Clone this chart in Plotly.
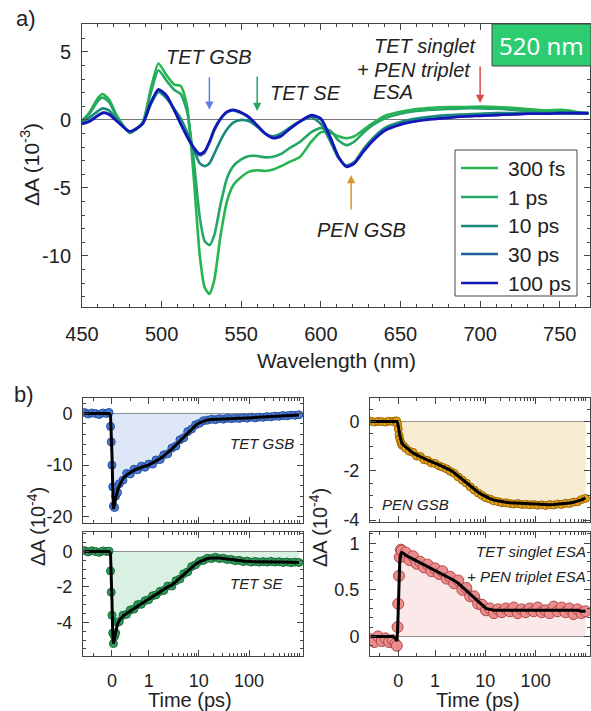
import math
import plotly.graph_objects as go

W, H = 591, 711

# ---------------- Panel a: spectra ----------------
WL = [450, 455, 460, 463, 467, 472, 480, 488, 493, 498, 503, 508, 512, 516, 520, 524, 527, 530, 533,
      537, 541, 545, 550, 555, 560, 565, 570, 575, 580, 587, 594, 600, 606, 611, 616, 621, 627, 633,
      640, 650, 660, 670, 680, 690, 700, 710, 720, 730, 740, 750, 755, 760, 768]

S_300FS = [-0.1, 0.6, 1.6, 1.9, 1.5, 0.3, -0.95, -0.2, 2.2, 4.15, 3.3, 2.6, 2.5, 1.0, -4.0, -10.0, -12.3,
           -12.8, -11.8, -8.5, -6.0, -4.8, -4.2, -3.8, -3.7, -3.75, -3.65, -3.4, -3.1, -2.7, -1.6, -0.9,
           -0.95, -1.2, -1.35, -1.2, -0.7, -0.2, 0.3, 0.6, 0.8, 0.9, 0.95, 0.95, 0.98, 0.95, 0.9, 0.8, 0.7,
           0.75, 0.7, 0.6, 0.5]
S_1PS = [-0.05, 0.5, 1.4, 1.65, 1.3, 0.2, -0.9, -0.2, 1.9, 3.65, 2.9, 2.2, 1.9, 0.6, -2.8, -7.2, -8.9,
         -9.2, -8.5, -6.2, -4.3, -3.4, -2.9, -2.65, -2.65, -2.75, -2.7, -2.5, -2.1, -1.6, -0.9, -0.6,
         -0.8, -1.5, -1.85, -1.6, -0.9, -0.35, 0.1, 0.45, 0.65, 0.75, 0.8, 0.85, 0.85, 0.82, 0.75, 0.65,
         0.55, 0.6, 0.55, 0.5, 0.45]
S_10PS = [-0.15, 0.2, 0.65, 0.85, 0.7, 0.0, -0.9, -0.3, 1.1, 2.05, 1.6, 0.8, 0.1, -0.9, -2.1, -3.2, -3.4,
          -3.2, -2.5, -1.5, -0.7, -0.2, 0.0, -0.1, -0.5, -1.0, -1.2, -1.0, -0.6, -0.1, 0.2, -0.3, -1.6,
          -2.8, -3.35, -3.1, -2.1, -1.3, -0.6, -0.15, 0.1, 0.25, 0.35, 0.4, 0.45, 0.5, 0.5, 0.5, 0.5,
          0.5, 0.5, 0.5, 0.45]
S_30PS = [-0.28, -0.05, 0.35, 0.55, 0.45, -0.08, -0.85, -0.3, 1.2, 2.2, 1.75, 0.7, -0.3, -1.25, -2.1,
          -2.6, -2.4, -1.7, -0.8, 0.05, 0.55, 0.7, 0.5, 0.15, -0.4, -1.0, -1.3, -1.15, -0.7, -0.1, 0.3,
          0.05, -1.3, -2.7, -3.4, -3.15, -2.25, -1.45, -0.75, -0.3, -0.05, 0.08, 0.18, 0.27, 0.32, 0.37,
          0.42, 0.45, 0.47, 0.5, 0.5, 0.5, 0.5]
S_100PS = [-0.3, -0.1, 0.3, 0.5, 0.4, -0.1, -0.85, -0.3, 1.2, 2.25, 1.8, 0.7, -0.3, -1.2, -2.0, -2.5,
           -2.3, -1.6, -0.7, 0.1, 0.6, 0.75, 0.55, 0.2, -0.4, -1.0, -1.35, -1.2, -0.7, -0.1, 0.35, 0.1,
           -1.3, -2.7, -3.45, -3.2, -2.3, -1.5, -0.8, -0.35, -0.1, 0.05, 0.15, 0.25, 0.3, 0.35, 0.4,
           0.45, 0.45, 0.5, 0.5, 0.5, 0.5]

SPEC_NAMES = ["300 fs", "1 ps", "10 ps", "30 ps", "100 ps"]
SPEC_DATA = [S_300FS, S_1PS, S_10PS, S_30PS, S_100PS]
SPEC_COLORS = ["#27b54f", "#24a865", "#18897a", "#1f5e9c", "#1414bb"]

# ---------------- Panel b: kinetics (units of 1e-4) ----------------
T = [-0.75, -0.65, -0.55, -0.45, -0.35, -0.25, -0.15, -0.08,
     -0.04, -0.02, 0.0, 0.02, 0.04,
     0.07, 0.1, 0.15, 0.2,
     0.3, 0.4, 0.5, 0.6, 0.7, 0.8, 0.9, 1.0,
     1.2, 1.4, 1.7, 2.0, 2.4, 2.9, 3.5, 4.2, 5.0, 6.0, 7.2, 8.6, 10.3, 12.4, 14.8, 17.8, 21.3, 25.6,
     30.7, 36.8, 44.1, 52.9, 63.5, 76.2, 91.4,
     110, 132, 158, 190, 228, 273, 328, 393, 472, 566, 680, 815, 980]

GSB_FIT = [0, 0, 0, 0, 0, 0, 0, 0,
           -0.3, -3, -8, -14, -18.5,
           -17.5, -16.3, -15.0, -14.0,
           -12.6, -11.9, -11.4, -11.0, -10.7, -10.4, -10.2, -10.0,
           -9.6, -9.2, -8.7, -8.2, -7.6, -6.9, -6.1, -5.3, -4.5, -3.7, -2.9, -2.3, -1.8, -1.45, -1.25,
           -1.15, -1.1, -1.05, -1.0, -1.0, -0.95, -0.95, -0.9, -0.9, -0.85,
           -0.8, -0.8, -0.75, -0.7, -0.65, -0.6, -0.55, -0.5, -0.45, -0.4, -0.35, -0.3, -0.3]
GSB_DATA = [0.2, -0.1, 0.1, 0.0, -0.2, 0.1, 0.0, 0.2,
            -2.5, -5.5, -10, -14.2, -17.9,
            -18.2, -16.0, -15.3, -13.6,
            -12.9, -11.6, -11.7, -10.8, -10.9, -10.2, -10.4, -9.8,
            -9.8, -9.0, -8.9, -8.0, -7.8, -6.7, -6.3, -5.1, -4.7, -3.5, -3.0, -2.2, -1.9, -1.4, -1.3,
            -1.1, -1.2, -1.0, -1.1, -0.9, -1.0, -0.9, -0.95, -0.8, -0.9,
            -0.7, -0.85, -0.7, -0.75, -0.6, -0.65, -0.5, -0.55, -0.4, -0.45, -0.3, -0.35, -0.25]

SE_FIT = [0, 0, 0, 0, 0, 0, 0, 0,
          -0.1, -1.0, -2.8, -4.5, -5.2,
          -4.9, -4.5, -4.1, -3.9,
          -3.65, -3.5, -3.35, -3.2, -3.05, -2.95, -2.82, -2.7,
          -2.55, -2.42, -2.28, -2.15, -2.0, -1.9, -1.7, -1.5, -1.3, -1.1, -0.9, -0.72, -0.58, -0.47,
          -0.4, -0.37, -0.36, -0.37, -0.4, -0.43, -0.47, -0.5, -0.53, -0.55, -0.56,
          -0.57, -0.58, -0.58, -0.58, -0.58, -0.58, -0.59, -0.6, -0.6, -0.6, -0.61, -0.62, -0.62]
SE_DATA = [0.05, -0.03, 0.04, 0.0, -0.05, 0.03, 0.0, 0.02,
           -1.1, -2.3, -3.6, -4.6, -5.2,
           -4.8, -4.6, -4.0, -3.95,
           -3.6, -3.55, -3.3, -3.25, -3.0, -2.98, -2.78, -2.72,
           -2.5, -2.45, -2.25, -2.2, -1.95, -1.95, -1.65, -1.55, -1.25, -1.15, -0.85, -0.75, -0.55,
           -0.5, -0.38, -0.4, -0.33, -0.4, -0.38, -0.45, -0.45, -0.52, -0.5, -0.57, -0.54,
           -0.6, -0.56, -0.6, -0.57, -0.6, -0.56, -0.6, -0.58, -0.62, -0.59, -0.63, -0.6, -0.62]

PEN_FIT = [0, 0, 0, 0, 0, 0, 0, 0,
           0.0, -0.05, -0.15, -0.35, -0.55,
           -0.75, -0.88, -0.97, -1.03,
           -1.15, -1.27, -1.35, -1.43, -1.5, -1.57, -1.63, -1.68,
           -1.76, -1.82, -1.9, -1.97, -2.08, -2.22, -2.35, -2.48, -2.62, -2.75, -2.87, -2.97, -3.06,
           -3.13, -3.19, -3.23, -3.26, -3.28, -3.3, -3.31, -3.32, -3.33, -3.34, -3.35, -3.36,
           -3.37, -3.38, -3.38, -3.38, -3.37, -3.36, -3.35, -3.33, -3.31, -3.28, -3.24, -3.18, -3.1]
PEN_DATA = [0.02, -0.02, 0.01, 0.0, -0.02, 0.02, 0.0, 0.03,
            0.02, -0.1, -0.3, -0.55, -0.7,
            -0.85, -0.95, -1.0, -1.08,
            -1.2, -1.25, -1.4, -1.42, -1.55, -1.58, -1.68, -1.7,
            -1.8, -1.85, -1.92, -2.02, -2.1, -2.25, -2.38, -2.5, -2.65, -2.78, -2.9, -3.0, -3.1,
            -3.15, -3.22, -3.25, -3.3, -3.3, -3.33, -3.35, -3.33, -3.37, -3.36, -3.38, -3.37,
            -3.4, -3.38, -3.41, -3.37, -3.39, -3.35, -3.37, -3.32, -3.33, -3.27, -3.26, -3.17, -3.12]

ESA_FIT = [0, 0, 0, 0, 0, 0, 0, -0.02,
           -0.05, 0.05, 0.3, 0.6, 0.8,
           0.88, 0.9, 0.89, 0.87,
           0.85, 0.83, 0.81, 0.79, 0.77, 0.75, 0.73, 0.71,
           0.69, 0.67, 0.64, 0.62, 0.6, 0.57, 0.53, 0.49, 0.45, 0.41, 0.37, 0.33, 0.3, 0.29, 0.28,
           0.28, 0.28, 0.28, 0.28, 0.28, 0.28, 0.28, 0.28, 0.28, 0.28,
           0.28, 0.28, 0.28, 0.28, 0.28, 0.28, 0.28, 0.28, 0.28, 0.28, 0.28, 0.27, 0.27]
ESA_DATA = [-0.03, -0.06, 0.0, -0.05, -0.02, -0.06, -0.04, -0.08,
            -0.1, 0.1, 0.35, 0.65, 0.85,
            0.93, 0.92, 0.86, 0.9,
            0.82, 0.86, 0.78, 0.8, 0.74, 0.77, 0.7, 0.73,
            0.67, 0.7, 0.62, 0.64, 0.57, 0.6, 0.5, 0.52, 0.43, 0.43, 0.35, 0.34, 0.28, 0.3, 0.25,
            0.29, 0.26, 0.3, 0.27, 0.31, 0.25, 0.29, 0.26, 0.3, 0.27,
            0.31, 0.26, 0.28, 0.25, 0.32, 0.27, 0.31, 0.26, 0.3, 0.24, 0.29, 0.25, 0.27]

TIME_TICKS = [0, 1, 10, 100]
TIME_TICK_LABELS = ["0", "1", "10", "100"]

DECADE = 1.37  # axis units per decade beyond 1 ps (lin-log time axis)


def lin_log(t):
    return t if t <= 1 else 1 + DECADE * math.log10(t)


U = [lin_log(t) for t in T]

FONT = "Liberation Sans, Arial, sans-serif"
AX_COL = "#444444"


def px(x):
    return x / W


def py(y):
    return 1 - y / H


fig = go.Figure()

# spectra
for name, vals, col in zip(SPEC_NAMES, SPEC_DATA, SPEC_COLORS):
    fig.add_trace(go.Scatter(x=WL, y=vals, mode="lines", name=name, showlegend=False,
                             line=dict(color=col, width=2.6, shape="spline", smoothing=0.6),
                             xaxis="x", yaxis="y"))

# kinetics panels
panels = [
    ("x2", "y2", GSB_DATA, GSB_FIT, "#4a78d2", "#27519e", "rgba(188,208,240,0.5)", 8),
    ("x3", "y3", SE_DATA, SE_FIT, "#2f9e5a", "#1b6b3a", "rgba(180,228,200,0.5)", 8),
    ("x4", "y4", PEN_DATA, PEN_FIT, "#e6a31c", "#9c6800", "rgba(242,222,180,0.6)", 8),
    ("x5", "y5", ESA_DATA, ESA_FIT, "#ea8c8c", "#b54848", "rgba(248,214,214,0.55)", 11),
]
for xa, ya, data, fit, mcol, ecol, fcol, msize in panels:
    fig.add_trace(go.Scatter(x=U, y=fit, mode="lines", fill="tozeroy", fillcolor=fcol,
                             line=dict(width=0, color=fcol), showlegend=False,
                             xaxis=xa, yaxis=ya, hoverinfo="skip"))
    fig.add_trace(go.Scatter(x=U, y=data, mode="markers", showlegend=False,
                             marker=dict(size=msize, color=mcol, line=dict(color=ecol, width=1)),
                             xaxis=xa, yaxis=ya))
    fig.add_trace(go.Scatter(x=U, y=fit, mode="lines", showlegend=False,
                             line=dict(color="black", width=3),
                             xaxis=xa, yaxis=ya))

common_ax = dict(showline=True, linecolor=AX_COL, linewidth=1, mirror="allticks",
                 ticks="inside", tickcolor=AX_COL, ticklen=6, showgrid=False, automargin=False,
                 tickfont=dict(family=FONT, size=18, color="#222"))

minor_t = [-0.5, 0.5] + [m * 10 ** d for d in range(0, 3) for m in range(2, 10)] + [1000]
minor_u = [lin_log(t) for t in minor_t]
tick_u = [lin_log(t) for t in TIME_TICKS]

time_ax = dict(common_ax, tickmode="array", tickvals=tick_u, ticktext=TIME_TICK_LABELS,
               zeroline=False, ticklabelstandoff=8,
               minor=dict(tickvals=minor_u, ticklen=3, ticks="inside", tickcolor=AX_COL))

ystand = 6

lay = dict(
    width=W, height=H, margin=dict(l=0, r=0, t=0, b=0, autoexpand=False),
    paper_bgcolor="white", plot_bgcolor="white",
    font=dict(family=FONT, color="#222"),
    xaxis=dict(common_ax, domain=[px(82), px(590)], range=[450, 769], tickmode="linear",
               tick0=450, dtick=50, tickfont=dict(family=FONT, size=20, color="#222"),
               ticklabelstandoff=9,
               minor=dict(dtick=10, ticklen=3, ticks="inside", tickcolor=AX_COL),
               anchor="y"),
    yaxis=dict(common_ax, domain=[py(307), py(24)], range=[-13.75, 7.05], tickmode="array",
               tickvals=[-10, -5, 0, 5], ticktext=["-10", "-5", "0", "5"],
               tickfont=dict(family=FONT, size=20, color="#222"), ticklabelstandoff=ystand,
               minor=dict(dtick=1, ticklen=3, ticks="inside", tickcolor=AX_COL),
               zeroline=True, zerolinecolor="#777", zerolinewidth=1, anchor="x"),
    xaxis2=dict(time_ax, domain=[px(83), px(303)], range=[-0.79, 5.21], anchor="y2",
                showticklabels=False),
    yaxis2=dict(common_ax, domain=[py(523), py(398)], range=[-21.2, 3], tickvals=[-20, -10, 0],
                ticktext=["-20", "-10", "0"], ticklabelstandoff=ystand,
                minor=dict(dtick=2, ticklen=3, ticks="inside", tickcolor=AX_COL),
                zeroline=True, zerolinecolor="#777", zerolinewidth=1, anchor="x2"),
    xaxis3=dict(time_ax, domain=[px(83), px(303)], range=[-0.79, 5.21], anchor="y3"),
    yaxis3=dict(common_ax, domain=[py(656), py(532)], range=[-5.9, 1.1], tickvals=[-4, -2, 0],
                ticktext=["-4", "-2", "0"], ticklabelstandoff=ystand,
                minor=dict(dtick=0.5, ticklen=3, ticks="inside", tickcolor=AX_COL),
                zeroline=True, zerolinecolor="#777", zerolinewidth=1, anchor="x3"),
    xaxis4=dict(time_ax, domain=[px(370), px(590)], range=[-0.77, 5.22], anchor="y4",
                showticklabels=False),
    yaxis4=dict(common_ax, domain=[py(522), py(398)], range=[-4.08, 0.96], tickvals=[-4, -2, 0],
                ticktext=["-4", "-2", "0"], ticklabelstandoff=ystand,
                minor=dict(dtick=0.5, ticklen=3, ticks="inside", tickcolor=AX_COL),
                zeroline=True, zerolinecolor="#777", zerolinewidth=1, anchor="x4"),
    xaxis5=dict(time_ax, domain=[px(370), px(590)], range=[-0.77, 5.22], anchor="y5"),
    yaxis5=dict(common_ax, domain=[py(656), py(532)], range=[-0.21, 1.12], tickvals=[0, 0.5, 1],
                ticktext=["0", "0.5", "1"], ticklabelstandoff=ystand,
                minor=dict(dtick=0.1, ticklen=3, ticks="inside", tickcolor=AX_COL),
                zeroline=True, zerolinecolor="#777", zerolinewidth=1, anchor="x5"),
    showlegend=False,
)
fig.update_layout(**lay)

ann = []
shapes = []


def text(x, y, s, size=20, xanchor="center", italic=False, color="#222", fam=FONT, angle=0):
    if italic:
        s = "<i>" + s + "</i>"
    ann.append(dict(x=px(x), y=py(y), xref="paper", yref="paper", text=s, showarrow=False,
                    xanchor=xanchor, yanchor="middle", textangle=angle,
                    font=dict(family=fam, size=size, color=color)))


def arrow(xv, yv, ay, color):
    ann.append(dict(x=xv, y=yv, xref="x", yref="y", ax=0, ay=ay, axref="pixel", ayref="pixel",
                    text="", showarrow=True, arrowhead=2, arrowsize=1.1, arrowwidth=1.5,
                    arrowcolor=color))


text(14, 18, "a)", size=22, xanchor="left")
text(12, 394, "b)", size=22, xanchor="left")
text(30, 165, "ΔA (10<sup>-3</sup>)", size=21, angle=-90)
text(36, 527, "ΔA (10<sup>-4</sup>)", size=20, angle=-90)
text(318, 527, "ΔA (10<sup>-4</sup>)", size=20, angle=-90)
text(336, 360, "Wavelength (nm)", size=21)
text(190, 700, "Time (ps)", size=20)
text(478, 700, "Time (ps)", size=20)

text(209, 57, "TET GSB", size=20, italic=True)
text(268, 93, "TET SE", size=20, italic=True, xanchor="left")
text(372, 46, "TET singlet", size=20, italic=True, xanchor="left")
text(355, 70, "+ PEN triplet", size=20, italic=True, xanchor="left")
text(371, 92, "ESA", size=20, italic=True, xanchor="left")
text(315, 230, "PEN GSB", size=20, italic=True, xanchor="left")

text(296, 443, "TET GSB", size=15, italic=True, xanchor="right")
text(286, 583, "TET SE", size=15, italic=True, xanchor="right")
text(380, 505, "PEN GSB", size=15, italic=True, xanchor="left")
text(588, 551, "TET singlet ESA", size=15, italic=True, xanchor="right")
text(588, 576, "+ PEN triplet ESA", size=15, italic=True, xanchor="right")

text(541, 45, "520 nm", size=24, color="white", fam="Noto Sans, Open Sans, sans-serif")

arrow(530, 0.75, -34, "#5f7fe0")
arrow(560, 0.65, -36, "#2aa462")
arrow(700, 1.25, -38, "#e04848")
arrow(619, -4.05, 36, "#d8982a")

# legend box (drawn manually to match the original entry spacing)
shapes.append(dict(type="rect", xref="paper", yref="paper", x0=px(455), x1=px(577),
                   y0=py(296), y1=py(150), fillcolor="white", line=dict(color="#444", width=1),
                   layer="above"))
LEG_Y = [168, 197, 226, 254, 283]
for name, col, ly in zip(SPEC_NAMES, SPEC_COLORS, LEG_Y):
    shapes.append(dict(type="line", xref="paper", yref="paper", x0=px(461), x1=px(498),
                       y0=py(ly), y1=py(ly), line=dict(color=col, width=2.6), layer="above"))
    text(506, ly, name, size=21, xanchor="left")

shapes.append(dict(type="rect", xref="paper", yref="paper", x0=px(492), x1=px(591), y0=py(66),
                   y1=py(24), fillcolor="#2ecc71", line=dict(color="#444", width=1), layer="above"))

fig.update_layout(annotations=ann, shapes=shapes)

fig.write_html("out.html")
